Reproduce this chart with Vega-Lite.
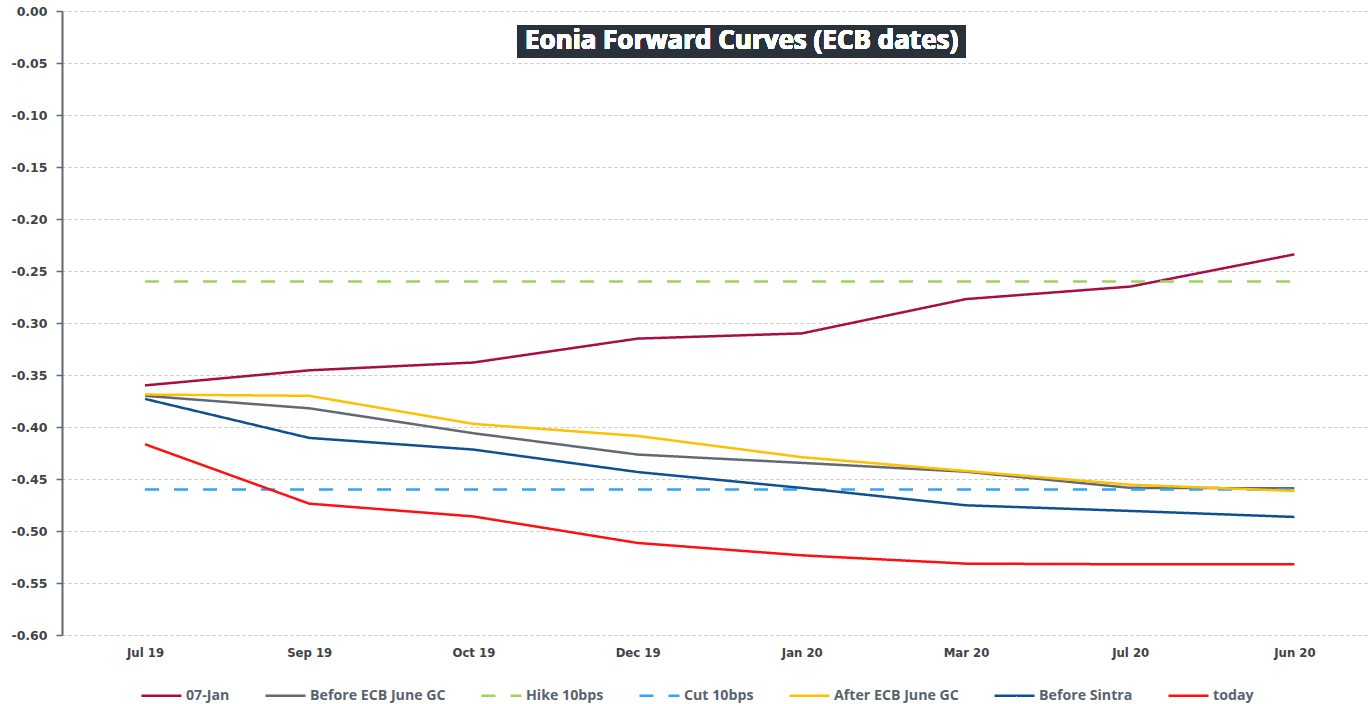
{
  "$schema": "https://vega.github.io/schema/vega-lite/v6.json",
  "width": 1306,
  "height": 624,
  "autosize": "none",
  "padding": {"left": 62, "top": 11, "right": 0, "bottom": 69},
  "background": "white",
  "config": {
    "view": {"stroke": null},
    "font": "Open Sans"
  },
  "data": {
    "values": [
      {"date": "Jul 19", "series": "07-Jan", "value": -0.360},
      {"date": "Sep 19", "series": "07-Jan", "value": -0.3455},
      {"date": "Oct 19", "series": "07-Jan", "value": -0.338},
      {"date": "Dec 19", "series": "07-Jan", "value": -0.315},
      {"date": "Jan 20", "series": "07-Jan", "value": -0.310},
      {"date": "Mar 20", "series": "07-Jan", "value": -0.277},
      {"date": "Jul 20", "series": "07-Jan", "value": -0.265},
      {"date": "Jun 20", "series": "07-Jan", "value": -0.234},

      {"date": "Jul 19", "series": "Before ECB June GC", "value": -0.370},
      {"date": "Sep 19", "series": "Before ECB June GC", "value": -0.382},
      {"date": "Oct 19", "series": "Before ECB June GC", "value": -0.406},
      {"date": "Dec 19", "series": "Before ECB June GC", "value": -0.4265},
      {"date": "Jan 20", "series": "Before ECB June GC", "value": -0.4345},
      {"date": "Mar 20", "series": "Before ECB June GC", "value": -0.443},
      {"date": "Jul 20", "series": "Before ECB June GC", "value": -0.4585},
      {"date": "Jun 20", "series": "Before ECB June GC", "value": -0.459},

      {"date": "Jul 19", "series": "Hike 10bps", "value": -0.26},
      {"date": "Sep 19", "series": "Hike 10bps", "value": -0.26},
      {"date": "Oct 19", "series": "Hike 10bps", "value": -0.26},
      {"date": "Dec 19", "series": "Hike 10bps", "value": -0.26},
      {"date": "Jan 20", "series": "Hike 10bps", "value": -0.26},
      {"date": "Mar 20", "series": "Hike 10bps", "value": -0.26},
      {"date": "Jul 20", "series": "Hike 10bps", "value": -0.26},
      {"date": "Jun 20", "series": "Hike 10bps", "value": -0.26},

      {"date": "Jul 19", "series": "Cut 10bps", "value": -0.46},
      {"date": "Sep 19", "series": "Cut 10bps", "value": -0.46},
      {"date": "Oct 19", "series": "Cut 10bps", "value": -0.46},
      {"date": "Dec 19", "series": "Cut 10bps", "value": -0.46},
      {"date": "Jan 20", "series": "Cut 10bps", "value": -0.46},
      {"date": "Mar 20", "series": "Cut 10bps", "value": -0.46},
      {"date": "Jul 20", "series": "Cut 10bps", "value": -0.46},
      {"date": "Jun 20", "series": "Cut 10bps", "value": -0.46},

      {"date": "Jul 19", "series": "After ECB June GC", "value": -0.3688},
      {"date": "Sep 19", "series": "After ECB June GC", "value": -0.370},
      {"date": "Oct 19", "series": "After ECB June GC", "value": -0.397},
      {"date": "Dec 19", "series": "After ECB June GC", "value": -0.4086},
      {"date": "Jan 20", "series": "After ECB June GC", "value": -0.429},
      {"date": "Mar 20", "series": "After ECB June GC", "value": -0.4423},
      {"date": "Jul 20", "series": "After ECB June GC", "value": -0.4555},
      {"date": "Jun 20", "series": "After ECB June GC", "value": -0.4615},

      {"date": "Jul 19", "series": "Before Sintra", "value": -0.373},
      {"date": "Sep 19", "series": "Before Sintra", "value": -0.4105},
      {"date": "Oct 19", "series": "Before Sintra", "value": -0.4217},
      {"date": "Dec 19", "series": "Before Sintra", "value": -0.4433},
      {"date": "Jan 20", "series": "Before Sintra", "value": -0.4586},
      {"date": "Mar 20", "series": "Before Sintra", "value": -0.4753},
      {"date": "Jul 20", "series": "Before Sintra", "value": -0.4807},
      {"date": "Jun 20", "series": "Before Sintra", "value": -0.4865},

      {"date": "Jul 19", "series": "today", "value": -0.4166},
      {"date": "Sep 19", "series": "today", "value": -0.4737},
      {"date": "Oct 19", "series": "today", "value": -0.486},
      {"date": "Dec 19", "series": "today", "value": -0.5115},
      {"date": "Jan 20", "series": "today", "value": -0.5234},
      {"date": "Mar 20", "series": "today", "value": -0.5314},
      {"date": "Jul 20", "series": "today", "value": -0.532},
      {"date": "Jun 20", "series": "today", "value": -0.532}
    ]
  },
  "layer": [
    {
      "mark": {"type": "line", "strokeCap": "butt"},
      "encoding": {
        "x": {
          "field": "date",
          "type": "nominal",
          "scale": {
            "type": "point",
            "domain": ["Jul 19", "Sep 19", "Oct 19", "Dec 19", "Jan 20", "Mar 20", "Jul 20", "Jun 20"],
            "padding": 0.477,
            "align": 0.53
          },
          "axis": {
            "title": null,
            "domain": false,
            "ticks": false,
            "grid": false,
            "labelAngle": 0,
            "labelFont": "DejaVu Sans Condensed",
            "labelFontWeight": "bold",
            "labelFontSize": 13,
            "labelColor": "#3f4346",
            "labelPadding": 11
          }
        },
        "y": {
          "field": "value",
          "type": "quantitative",
          "scale": {"domain": [-0.6, 0], "nice": false, "zero": false},
          "axis": {
            "title": null,
            "values": [0, -0.05, -0.1, -0.15, -0.2, -0.25, -0.3, -0.35, -0.4, -0.45, -0.5, -0.55, -0.6],
            "labelExpr": "replace(format(datum.value, '.2f'), '\u2212', '-')",
            "labelFont": "DejaVu Sans",
            "labelFontWeight": "bold",
            "labelFontSize": 12.5,
            "labelColor": "#3f4346",
            "labelPadding": 9,
            "domain": true,
            "domainColor": "#5d6873",
            "domainWidth": 2,
            "ticks": true,
            "tickColor": "#5d6873",
            "tickSize": 6,
            "tickWidth": 1.5,
            "grid": true,
            "gridColor": "#c8c8c8",
            "gridDash": [3, 3],
            "gridWidth": 1
          }
        },
        "color": {
          "field": "series",
          "type": "nominal",
          "scale": {
            "domain": ["07-Jan", "Before ECB June GC", "Hike 10bps", "Cut 10bps", "After ECB June GC", "Before Sintra", "today"],
            "range": ["#a80d45", "#5f6a74", "#9dd45c", "#33a3f4", "#ffc000", "#11508e", "#ff1010"]
          },
          "legend": {
            "title": null,
            "orient": "none",
            "legendX": 78,
            "legendY": 663,
            "direction": "horizontal",
            "symbolType": "stroke",
            "symbolSize": 1600,
            "symbolStrokeWidth": 3,
            "labelFont": "Open Sans",
            "labelFontWeight": "bold",
            "labelFontSize": 14.2,
            "labelColor": "#59636d",
            "labelOffset": 3,
            "columnPadding": 30
          }
        },
        "strokeDash": {
          "field": "series",
          "type": "nominal",
          "scale": {
            "domain": ["07-Jan", "Before ECB June GC", "Hike 10bps", "Cut 10bps", "After ECB June GC", "Before Sintra", "today"],
            "range": [[1, 0], [1, 0], [14, 15], [14, 15], [1, 0], [1, 0], [1, 0]]
          },
          "legend": null
        },
        "strokeWidth": {
          "field": "series",
          "type": "nominal",
          "scale": {
            "domain": ["07-Jan", "Before ECB June GC", "Hike 10bps", "Cut 10bps", "After ECB June GC", "Before Sintra", "today"],
            "range": [2.5, 2.5, 3.5, 3.5, 2.5, 2.5, 2.5]
          },
          "legend": null
        }
      }
    },
    {
      "mark": {"type": "rect", "width": 448, "height": 32, "xOffset": 104, "color": "#29323b"},
      "encoding": {
        "x": {"datum": "Dec 19"},
        "y": {"datum": -0.0291}
      }
    },
    {
      "mark": {
        "type": "text",
        "text": "Eonia Forward Curves (ECB dates)",
        "font": "Open Sans",
        "fontWeight": "bold",
        "fontSize": 26,
        "color": "white",
        "align": "center",
        "baseline": "middle",
        "dx": 104,
        "dy": 0
      },
      "encoding": {
        "x": {"datum": "Dec 19"},
        "y": {"datum": -0.0291}
      }
    }
  ]
}
